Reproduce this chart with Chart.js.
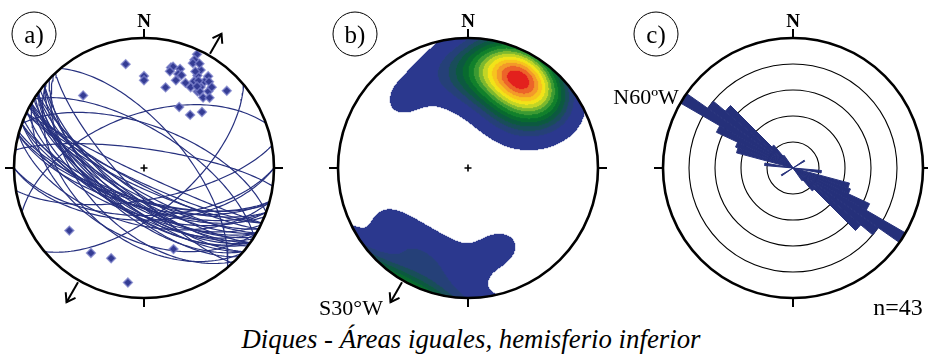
<!DOCTYPE html>
<html><head><meta charset="utf-8">
<script src="https://cdn.jsdelivr.net/npm/chart.js@4.4.0/dist/chart.umd.min.js"></script>
<style>
html,body{margin:0;padding:0;background:#fff;}
body{width:928px;height:359px;position:relative;overflow:hidden;font-family:"Liberation Serif","Times New Roman",serif;color:#000;}
canvas{position:absolute;}
.t{position:absolute;line-height:1;white-space:nowrap;transform:translate(-50%,-50%);}
.lab{position:absolute;width:43px;height:43px;border:1.5px solid #000;border-radius:50%;transform:translate(-50%,-50%);}
.lab span{position:absolute;left:50%;top:50%;transform:translate(-50%,-52%);font-size:25px;line-height:1;}
</style></head>
<body>
<canvas id="ca" width="290" height="290" style="left:-1px;top:23px"></canvas>
<canvas id="cb" width="290" height="290" style="left:323px;top:23px"></canvas>
<canvas id="cc" width="290" height="290" style="left:648px;top:23px"></canvas>
<div id="texts"></div>
<script>
// ---------------- DATA ----------------
// Dike planes (strike, right-hand rule, and dip), read from the poles / great circles of panel a)
const strikes = [115,115,115,105,106,105,110,110,110,105,120,120,125,120,125,120,125,130,125,130,133,137,120,131,136,
                 80,90,90,50,320,302,290,278,250,
                 118,122,127,112,126,118,130,123,116];
const dips    = [86,81,78,69,70,66,70,66,61,54,76,71,75,66,70,61,65,66,61,60,63,76,45,45,52,
                 70,60,57,62,64,66,63,78,56,
                 73,68,72,66,62,80,70,64,62];
// Rose diagram: frequency per 5-degree strike bin over 0-180 (mirrored for 180-360)
const roseHalf = [0,0,0,0,0,0,0,0,0,0,0,1.05,0,0,0,0,0,0,0,2.2,0,4.5,4.7,6.5,10,8,6.8,2.3,1.2,0,0,0,0,0,0,0];
const roseTicks = [0,2,4,6,8,10];
const panelLabels = ['a)','b)','c)'];
const northLabel = 'N';
const dirLabelA = 'N60ºW';
const dirLabelB = 'S30°W';
const countLabel = 'n=43';
const caption = 'Diques - Áreas iguales, hemisferio inferior';
// density contours: lowest level in single-pole units, upper levels as fraction of the maximum
const densityFloor = 0.75;
const densityLevels = [0.1,0.15,0.2,0.26,0.32,0.39,0.46,0.53,0.61,0.69,0.77,0.85,0.93];
const densityColors = ['#2d3a8f','#27407a','#1b4e5c','#0e5b40','#0a6a31','#12802d','#3d9a34','#7db82f','#c2d527','#f2e31a','#f7c420','#f39a2a','#ec642a','#e3221f'];

// ---------------- GEOMETRY ----------------
const D2R = Math.PI/180;
const LIM = 145/130;
function toXY(e,n,u){
  if(u>0){e=-e;n=-n;u=-u;}
  const th = Math.acos(Math.max(-1,Math.min(1,-u)));
  const r = Math.SQRT2*Math.sin(th/2);
  const h = Math.hypot(e,n);
  if(h<1e-12) return {x:0,y:0};
  return {x:r*e/h, y:r*n/h};
}
function greatCircle(s,d){
  const dd=(s+90)*D2R, sr=s*D2R, dr=d*D2R;
  const sv=[Math.sin(sr),Math.cos(sr),0];
  const dv=[Math.cos(dr)*Math.sin(dd),Math.cos(dr)*Math.cos(dd),-Math.sin(dr)];
  const pts=[];
  for(let t=0;t<=180;t+=2){
    const c=Math.cos(t*D2R), si=Math.sin(t*D2R);
    pts.push(toXY(c*sv[0]+si*dv[0], c*sv[1]+si*dv[1], c*sv[2]+si*dv[2]));
  }
  return pts;
}
function poleVec(s,d){
  const tr=(s+270)*D2R, pl=(90-d)*D2R;
  return [Math.cos(pl)*Math.sin(tr), Math.cos(pl)*Math.cos(tr), -Math.sin(pl)];
}
const poles = strikes.map((s,i)=>poleVec(s,dips[i]));
const polePts = poles.map(p=>toXY(p[0],p[1],p[2]));

// frame plugin
function frame(opt){
  return {id:'frame'+Math.random(), afterDatasetsDraw(chart){
    const ctx=chart.ctx;
    let cx,cy,R;
    if(chart.scales.r){const s=chart.scales.r;cx=s.xCenter;cy=s.yCenter;R=s.drawingArea;}
    else{const x=chart.scales.x,y=chart.scales.y;cx=x.getPixelForValue(0);cy=y.getPixelForValue(0);R=x.getPixelForValue(1)-cx;}
    ctx.save();
    ctx.strokeStyle='#000';
    ctx.lineWidth=2.6;
    ctx.beginPath();ctx.arc(cx,cy,R,0,Math.PI*2);ctx.stroke();
    ctx.lineWidth=2;
    for(let k=0;k<4;k++){
      const a=k*Math.PI/2;
      ctx.beginPath();
      ctx.moveTo(cx+Math.sin(a)*R,cy-Math.cos(a)*R);
      ctx.lineTo(cx+Math.sin(a)*(R+9),cy-Math.cos(a)*(R+9));
      ctx.stroke();
    }
    if(opt.cross){
      ctx.lineWidth=1.6;
      ctx.beginPath();ctx.moveTo(cx-3.5,cy);ctx.lineTo(cx+3.5,cy);ctx.moveTo(cx,cy-3.5);ctx.lineTo(cx,cy+3.5);ctx.stroke();
    }
    (opt.arrows||[]).forEach(b=>{
      const a=b*D2R, ux=Math.sin(a), uy=-Math.cos(a);
      const r0=R+2, r1=R+25;
      const tx=cx+ux*r1, ty=cy+uy*r1;
      ctx.lineWidth=2;
      ctx.beginPath();ctx.moveTo(cx+ux*r0,cy+uy*r0);ctx.lineTo(tx,ty);ctx.stroke();
      const back=Math.atan2(-uy,-ux);
      ctx.beginPath();
      ctx.moveTo(tx+Math.cos(back+0.6)*10,ty+Math.sin(back+0.6)*10);
      ctx.lineTo(tx,ty);
      ctx.lineTo(tx+Math.cos(back-0.6)*10,ty+Math.sin(back-0.6)*10);
      ctx.stroke();
    });
    ctx.restore();
  }};
}
const baseOpts = {
  responsive:false, animation:false, events:[],
  plugins:{legend:{display:false},tooltip:{enabled:false}},
  layout:{padding:0, autoPadding:false},
  scales:{
    x:{type:'linear',min:-LIM,max:LIM,display:false},
    y:{type:'linear',min:-LIM,max:LIM,display:false}
  }
};

// ---------------- PANEL A ----------------
const lineColor='#27317f';
const dsA=[{data:polePts, showLine:false, pointStyle:'rectRot', pointRadius:4.4, backgroundColor:'#343c94', borderColor:'rgba(120,125,200,0.75)', borderWidth:1.5}];
strikes.forEach((s,i)=>{
  dsA.push({data:greatCircle(s,dips[i]), showLine:true, pointRadius:0, borderColor:lineColor, borderWidth:1.2, fill:false, tension:0});
});
new Chart(document.getElementById('ca'),{type:'scatter',data:{datasets:dsA},options:baseOpts,plugins:[frame({cross:true,arrows:[30,210]})]});

// ---------------- PANEL B (density) ----------------
const kappa=20;
const N=130;
const cells=[];let maxD=0;
for(let j=-N;j<N;j++){
  for(let i=-N;i<N;i++){
    const x=(i+0.5)/N, y=-(j+0.5)/N;
    const r=Math.hypot(x,y);
    if(r>1) continue;
    const th=2*Math.asin(Math.min(1,r/Math.SQRT2));
    const st=Math.sin(th);
    const g=r>0?[st*x/r, st*y/r, -Math.cos(th)]:[0,0,-1];
    let d=0;
    for(const p of poles){
      const c=Math.abs(g[0]*p[0]+g[1]*p[1]+g[2]*p[2]);
      d+=Math.exp(kappa*(c-1));
    }
    cells.push({x,y,d});
    if(d>maxD) maxD=d;
  }
}
const levelsAbs=[densityFloor].concat(densityLevels.map(f=>f*maxD));
const levelData=levelsAbs.map(()=>[]);
cells.forEach(c=>{
  let li=-1;
  for(let k=0;k<levelsAbs.length;k++){ if(c.d>=levelsAbs[k]) li=k; }
  if(li>=0) levelData[li].push({x:c.x,y:c.y});
});
const dsB=levelData.map((pts,k)=>({data:pts, showLine:false, pointStyle:'rect', pointRadius:0.95, borderWidth:0, backgroundColor:densityColors[k], order:levelsAbs.length-k}));
new Chart(document.getElementById('cb'),{type:'scatter',data:{datasets:dsB},options:Object.assign({},baseOpts,{normalized:true}),plugins:[frame({cross:true,arrows:[210]})]});

// ---------------- PANEL C (rose) ----------------
const roseFull=[];for(let k=0;k<72;k++) roseFull.push(roseHalf[k%36]);
const roseLabels=roseFull.map((v,k)=>String(k*5));
new Chart(document.getElementById('cc'),{type:'polarArea',
  data:{labels:roseLabels,datasets:[{data:roseFull,backgroundColor:'#25307a',borderColor:'#25307a',borderWidth:c=>(c.raw>0?1:0)}]},
  options:{responsive:false,animation:false,events:[],layout:{padding:15,autoPadding:false},
    plugins:{legend:{display:false},tooltip:{enabled:false}},
    scales:{r:{min:roseTicks[0],max:roseTicks[roseTicks.length-1],startAngle:0,
      ticks:{display:false,stepSize:roseTicks[1]-roseTicks[0]},
      grid:{color:c=>(c.tick&&c.tick.value>=roseTicks[roseTicks.length-1]?'rgba(0,0,0,0)':'#000'),lineWidth:1.1},
      angleLines:{display:false},pointLabels:{display:false}}}},
  plugins:[frame({cross:false})]});

// ---------------- TEXTS ----------------
const T=document.getElementById('texts');
function txt(s,x,y,style){const d=document.createElement('div');d.className='t';d.textContent=s;d.style.left=x+'px';d.style.top=y+'px';Object.assign(d.style,style||{});T.appendChild(d);return d;}
[144,468,793].forEach(x=>txt(northLabel,x,20,{fontWeight:'bold',fontSize:'19px'}));
[[34,34],[355,34],[656,34]].forEach((p,i)=>{const d=document.createElement('div');d.className='lab';d.style.left=p[0]+'px';d.style.top=p[1]+'px';const s=document.createElement('span');s.textContent=panelLabels[i];d.appendChild(s);T.appendChild(d);});
txt(dirLabelA,646,97,{fontSize:'22px'});
txt(dirLabelB,351,308,{fontSize:'22px'});
txt(countLabel,898,307,{fontSize:'24px'});
txt(caption,471,339,{fontSize:'26.8px',fontStyle:'italic'});
</script>
</body></html>
